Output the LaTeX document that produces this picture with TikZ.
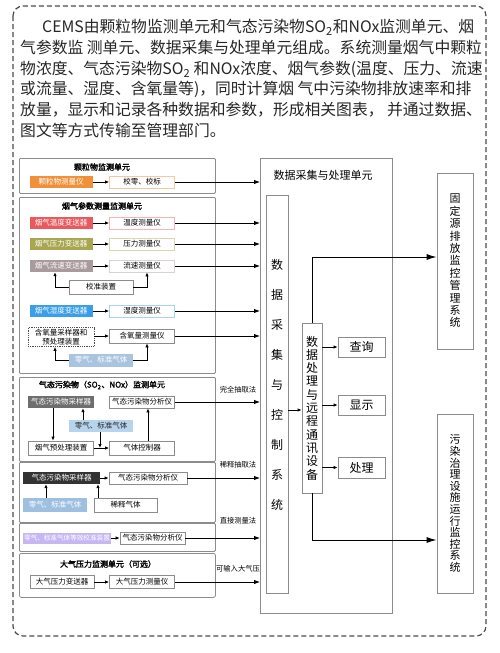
\documentclass[tikz,border=0pt]{standalone}
\usepackage{fontspec}
\setmainfont{Noto Sans CJK SC}[AutoFakeBold=2]
\usetikzlibrary{arrows.meta,positioning,calc}
\definecolor{pmOrange}{HTML}{F0913A}
\definecolor{tempRed}{HTML}{E85A5E}
\definecolor{presOlive}{HTML}{A8A64E}
\definecolor{flowMauve}{HTML}{A99A9D}
\definecolor{humBlue}{HTML}{3A9FE8}
\definecolor{zeroBlue}{HTML}{A8C4DF}
\definecolor{zeroLight}{HTML}{B6D4EC}
\definecolor{sampGray}{HTML}{6E6E6E}
\definecolor{sampDark}{HTML}{333333}
\definecolor{calPurple}{HTML}{C6B7F3}
\definecolor{frameGray}{HTML}{8C8C8C}

\begin{document}
\begin{tikzpicture}[x=1pt, y=-1pt,
  every node/.style={font=\fontsize{7.5}{9}\selectfont, inner sep=0pt},
  grp/.style={draw=frameGray, line width=0.8pt, rounded corners=1pt, anchor=north west},
  srcbox/.style={fill=#1, text=white, minimum width=63pt, minimum height=12pt},
  measbox/.style={draw=#1, line width=0.8pt, fill=white, minimum width=65pt, minimum height=12pt},
  plainbox/.style={draw=frameGray, line width=0.8pt, fill=white, minimum height=12pt},
  ttl/.style={font=\fontsize{8}{10}\selectfont\bfseries},
  method/.style={font=\fontsize{7.3}{9}\selectfont},
  link/.style={-{Latex[length=4pt,width=3.5pt]}, line width=0.8pt},
  feed/.style={-{Latex[length=6pt,width=4.5pt]}, line width=0.9pt},
  sysarrow/.style={-{Latex[length=10pt,width=6pt]}, line width=0.9pt}
]
  \useasboundingbox (0,0) rectangle (500,653);
  \draw[black!70, line width=1.2pt, dash pattern=on 5pt off 3pt, rounded corners=10pt]
    (13,6) rectangle (486,636);

  % intro text
  \node[anchor=north west, align=left, text=black!85,
        font=\fontsize{15.8}{20.8}\selectfont] (intro) at (20,19)
    {\hspace{22pt}CEMS由颗粒物监测单元和气态污染物SO\textsubscript{2}和NOx监测单元、烟\\
     气参数监 测单元、数据采集与处理单元组成。系统测量烟气中颗粒\\
     物浓度、气态污染物SO\textsubscript{2} 和NOx浓度、烟气参数(温度、压力、流速\\
     或流量、湿度、含氧量等)，同时计算烟 气中污染物排放速率和排\\
     放量，显示和记录各种数据和参数，形成相关图表， 并通过数据、\\
     图文等方式传输至管理部门。};

  % data acquisition unit
  \node[grp, rounded corners=0pt, minimum width=132pt, minimum height=455pt] (daq) at (260,158) {};
  \node[font=\fontsize{11}{13}\selectfont] (daqTtl) at (323,175) {数据采集与处理单元};
  \node[plainbox, minimum width=22pt, minimum height=398pt] (daqSys) at (277,394) {};
  \node[align=center, font=\fontsize{12}{30}\selectfont] (daqSysTxt) at (277,385)
    {数\\据\\采\\集\\与\\控\\制\\系\\统};
  \node[plainbox, minimum width=20pt, minimum height=170pt, align=center,
        font=\fontsize{12}{13.3}\selectfont] (proc) at (312,408)
    {数\\据\\处\\理\\与\\远\\程\\通\\讯\\设\\备};
  \node[plainbox, minimum width=47pt, minimum height=20pt, font=\fontsize{12}{14}\selectfont] (qry) at (361.5,347) {查询};
  \node[plainbox, minimum width=47pt, minimum height=20pt, font=\fontsize{12}{14}\selectfont] (disp) at (361.5,405) {显示};
  \node[plainbox, minimum width=47pt, minimum height=21pt, font=\fontsize{12}{14}\selectfont] (hdl) at (361.5,467.5) {处理};
  \draw[link] (daqSys.east |- 0,410) -- (proc.west |- 0,410);
  \foreach \b in {qry,disp,hdl}
    \draw[link] (\b.west -| proc.east) -- (\b.west);

  % management systems
  \node[plainbox, minimum width=36pt, minimum height=176pt, align=center,
        font=\fontsize{11}{12.4}\selectfont] (fixedSys) at (455,261)
    {固\\定\\源\\排\\放\\监\\控\\管\\理\\系\\统};
  \node[plainbox, minimum width=36pt, minimum height=179pt, align=center,
        font=\fontsize{11}{11.6}\selectfont] (treatSys) at (455,503.5)
    {污\\染\\治\\理\\设\\施\\运\\行\\监\\控\\系\\统};
  \draw[sysarrow] (proc.north) |- ([yshift=4pt]fixedSys.west);
  \draw[sysarrow] (proc.south) |- ([yshift=-36.5pt]treatSys.west);

  % particulate unit
  \node[grp, minimum width=196pt, minimum height=35pt] (pmUnit) at (19,158) {};
  \node[ttl] (pmTtl) at (102,167) {颗粒物监测单元};
  \node[srcbox=pmOrange] (pmSrc) at (61,182) {颗粒物测量仪};
  \node[measbox=pmOrange!50] (pmCal) at (142,182) {校零、校标};
  \draw[link] (pmSrc) -- (pmCal);
  \draw[feed] (pmCal.east) -- (pmCal.east -| daq.west);

  % flue gas parameters
  \node[grp, minimum width=196pt, minimum height=176pt] (flueUnit) at (19,197) {};
  \node[ttl] (flueTtl) at (102,206) {烟气参数测量监测单元};
  \foreach \y/\nm/\col/\srcTxt/\measTxt in {
      223/temp/tempRed/烟气温度变送器/温度测量仪,
      244/pres/presOlive/烟气压力变送器/压力测量仪,
      266/flow/flowMauve/烟气流速变送器/流速测量仪,
      311/hum/humBlue/烟气湿度变送器/湿度测量仪} {
    \node[srcbox=\col] (\nm Src) at (61,\y) {\srcTxt};
    \node[measbox=\col!45] (\nm Meas) at (142,\y) {\measTxt};
    \draw[link] (\nm Src) -- (\nm Meas);
    \draw[feed] (\nm Meas.east) -- (\nm Meas.east -| daq.west);
  }
  \node[plainbox, minimum width=64pt, minimum height=14pt] (calDev) at (101,287) {校准装置};
  \draw[link] (calDev.west) -| ([xshift=-6pt]flowSrc.south);
  \draw[link] (calDev.east) -| ([xshift=5pt]flowMeas.south);
  \node[draw=black!70, densely dotted, line width=0.8pt, minimum width=66pt, minimum height=19pt,
        align=center, font=\fontsize{7.5}{8.5}\selectfont] (o2Samp) at (61,337) {含氧量采样器和\\预处理装置};
  \node[plainbox, minimum width=65pt, minimum height=14pt] (o2Meas) at (142,336) {含氧量测量仪};
  \draw[link] (o2Samp.east |- o2Meas) -- (o2Meas.west);
  \node[srcbox=zeroBlue, minimum width=64pt, minimum height=13pt] (o2Zero) at (101,360) {零气、标准气体};
  \draw[link] (o2Zero.west) -| ([xshift=-6pt]o2Samp.south);
  \draw[link] (o2Zero.east) -| ([xshift=5pt]o2Meas.south);
  \draw[feed] (o2Meas.east) -- (o2Meas.east -| daq.west);

  % gaseous pollutants, full extraction
  \node[grp, minimum width=196pt, minimum height=84pt] (gasUnit) at (19,377) {};
  \node[ttl] (gasTtl) at (102,385) {气态污染物（SO\textsubscript{2}、NOx）监测单元};
  \node[srcbox=sampGray, minimum width=66pt] (gSamp) at (61,402) {气态污染物采样器};
  \node[plainbox, minimum width=65pt] (gAna) at (142,402) {气态污染物分析仪};
  \node[srcbox=zeroLight, text=black!85, minimum width=64pt] (gZero) at (101,426) {零气、标准气体};
  \node[plainbox, minimum width=65pt, minimum height=14pt] (gPre) at (61,448) {烟气预处理装置};
  \node[plainbox, minimum width=65pt, minimum height=14pt] (gCtl) at (142,448) {气体控制器};
  \coordinate (gJoin) at ($(gPre.east)!0.4!(gCtl.west)$);
  \draw[link] ([xshift=-8pt]gSamp.south) -- ([xshift=-8pt]gPre.north);
  \draw[link] ([xshift=-18pt]gZero.north) -- ([xshift=22pt]gSamp.south);
  \draw[link] (gZero.south -| gJoin) -- (gJoin);
  \draw[link] (gPre.east) -- (gCtl.west);
  \draw[link] ([xshift=6pt]gCtl.north) -- ([xshift=6pt]gAna.south);
  \draw[feed] (gAna.east) -- (gAna.east -| daq.west);
  \node[method] (mFull) at (238,390) {完全抽取法};

  % dilution extraction
  \node[grp, minimum width=196pt, minimum height=60pt] (dilUnit) at (19,462) {};
  \node[srcbox=sampDark, minimum width=77pt] (dSamp) at (61.5,478) {气态污染物采样器};
  \node[plainbox, minimum width=78pt] (dAna) at (148,478) {气态污染物分析仪};
  \node[srcbox=zeroBlue!90!humBlue, minimum width=64pt, minimum height=14pt] (dZero) at (55,505) {零气、标准气体};
  \node[plainbox, minimum width=63pt, minimum height=14pt] (dGas) at (125.5,505) {稀释气体};
  \draw[link] (dSamp) -- (dAna);
  \draw[link] ([xshift=-9pt]dZero.north) -- ([xshift=-15.5pt]dSamp.south);
  \draw[link] ([xshift=-27.5pt]dGas.north) -- ([xshift=36.5pt]dSamp.south);
  \draw[feed] (dAna.east) -- (dAna.east -| daq.west);
  \node[method] (mDil) at (238,465) {稀释抽取法};

  % direct measurement
  \node[grp, minimum width=196pt, minimum height=28pt] (dirUnit) at (19,523) {};
  \node[srcbox=calPurple, minimum width=88pt, minimum height=11pt,
        font=\fontsize{6.6}{8}\selectfont] (rCal) at (67,538) {零气、标准气体等效校准装置};
  \node[plainbox, minimum width=65pt] (rAna) at (152.5,538) {气态污染物分析仪};
  \draw[link] (rCal) -- (rAna);
  \draw[feed] (rAna.east) -- (rAna.east -| daq.west);
  \node[method] (mDir) at (238,521) {直接测量法};

  % barometric pressure
  \node[grp, rounded corners=2pt, minimum width=196pt, minimum height=44pt] (baroUnit) at (19,553) {};
  \node[ttl] (baroTtl) at (108,564) {大气压力监测单元（可选）};
  \node[plainbox, minimum width=64pt, minimum height=13pt] (bSrc) at (62,582) {大气压力变送器};
  \node[plainbox, minimum width=65pt, minimum height=13pt] (bMeas) at (142,582) {大气压力测量仪};
  \draw[link] (bSrc) -- (bMeas);
  \draw[feed] (bMeas.east) -- (bMeas.east -| daq.west);
  \node[method] (mBaro) at (238,569) {可输入大气压};
\end{tikzpicture}
\end{document}
